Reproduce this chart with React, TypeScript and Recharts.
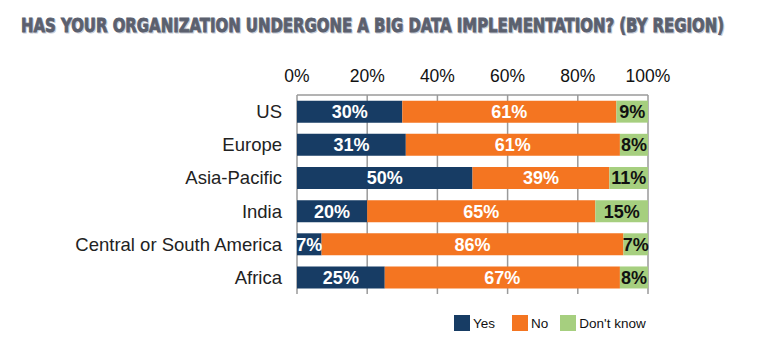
import { BarChart, Bar, XAxis, YAxis, CartesianGrid, LabelList } from 'recharts'

const TITLE = 'HAS YOUR ORGANIZATION UNDERGONE A BIG DATA IMPLEMENTATION? (BY REGION)'

const regions = ['US', 'Europe', 'Asia-Pacific', 'India', 'Central or South America', 'Africa']
const yesValues = [30, 31, 50, 20, 7, 25]
const noValues = [61, 61, 39, 65, 86, 67]
const dontKnowValues = [9, 8, 11, 15, 7, 8]
const xTicks = [0, 20, 40, 60, 80, 100]

const series = [
  { key: 'yes', name: 'Yes', color: '#173c64', label: '#ffffff', gapAfter: 17 },
  { key: 'no', name: 'No', color: '#f47521', label: '#ffffff', gapAfter: 12 },
  { key: 'dontKnow', name: "Don't know", color: '#a6cf7f', label: '#111111', gapAfter: 0 },
]

const data = regions.map((region, i) => ({
  region,
  yes: yesValues[i],
  no: noValues[i],
  dontKnow: dontKnowValues[i],
}))

const font = '"Liberation Sans", Arial, Helvetica, sans-serif'
const titleFont = '"DejaVu Sans Condensed", "Liberation Sans Narrow", sans-serif'

export default function App() {
  return (
    <div style={{ position: 'absolute', left: 0, top: 0, width: 770, height: 339, background: '#fff', fontFamily: font }}>
      {/* title: condensed bold, stretched a bit vertically to match the original's tall caps */}
      <svg width={770} height={50} style={{ position: 'absolute', left: 0, top: 0 }}>
        <g transform="scale(1,1.15)">
          <text x={22} y={33 / 1.15}
            style={{ fontFamily: titleFont, fontSize: 16.6, fontWeight: 'bold', fill: '#c9ced8', stroke: '#c9ced8', strokeWidth: 0.7 }}>
            {TITLE}
          </text>
          <text x={21} y={32 / 1.15}
            style={{ fontFamily: titleFont, fontSize: 16.6, fontWeight: 'bold', fill: '#5b606e', stroke: '#5b606e', strokeWidth: 0.7 }}>
            {TITLE}
          </text>
        </g>
      </svg>

      <BarChart width={770} height={339} data={data} layout="vertical" barCategoryGap="17%"
        margin={{ top: 65, right: 122, bottom: 45, left: 0 }}>
        <CartesianGrid horizontal={false} vertical stroke="#9a9a9a" strokeWidth={1.5} />
        <XAxis type="number" orientation="top" domain={[0, 100]} ticks={xTicks} height={30}
          tickFormatter={(v) => `${v}%`} axisLine={{ stroke: '#9a9a9a', strokeWidth: 1.5 }} tickLine={false}
          tickSize={6} tickMargin={7} interval={0}
          tick={{ fontSize: 17.5, fill: '#111', fontFamily: font }} />
        <YAxis type="category" dataKey="region" width={297} axisLine={false} tickLine={false}
          tickSize={6} tickMargin={9} interval={0}
          tick={{ fontSize: 18.5, fill: '#222', fontFamily: font }} />
        {series.map((s) => (
          <Bar key={s.key} dataKey={s.key} name={s.name} stackId="a" fill={s.color} isAnimationActive={false}>
            <LabelList dataKey={s.key} position="center" formatter={(v: any) => `${v}%`}
              fill={s.label} fontSize={18} fontWeight="bold" fontFamily={font} />
          </Bar>
        ))}
      </BarChart>

      {/* legend */}
      <div style={{ position: 'absolute', left: 454, top: 315, display: 'flex', alignItems: 'center', fontSize: 13.5, color: '#111' }}>
        {series.map((s) => (
          <div key={s.key} style={{ display: 'flex', alignItems: 'center', marginRight: s.gapAfter }}>
            <span style={{ display: 'inline-block', width: 16, height: 16, background: s.color, marginRight: 3 }} />
            <span>{s.name}</span>
          </div>
        ))}
      </div>
    </div>
  )
}
